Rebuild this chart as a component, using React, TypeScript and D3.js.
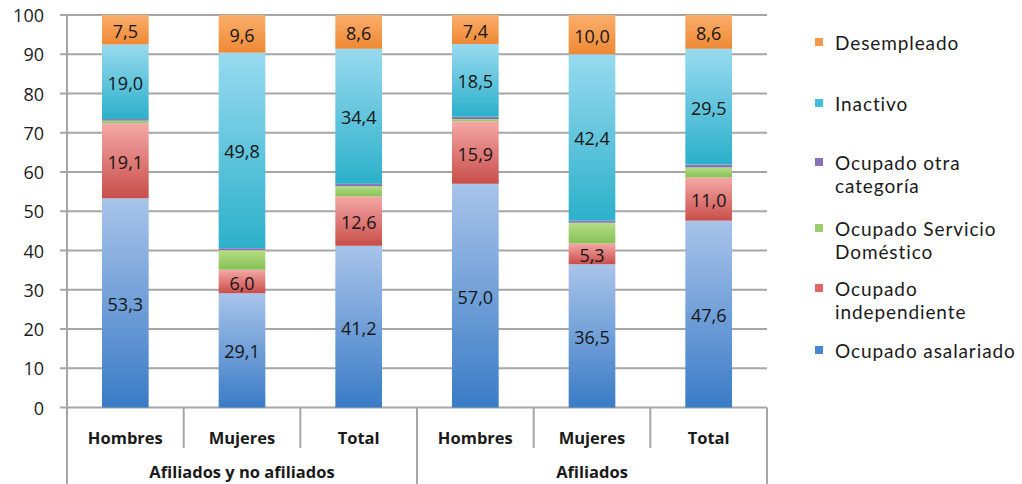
import React from "react";
import * as d3 from "d3";

const categories = ["Hombres", "Mujeres", "Total", "Hombres", "Mujeres", "Total"];
const groups = ["Afiliados y no afiliados", "Afiliados"];
const seriesNames = [
  "Ocupado asalariado",
  "Ocupado independiente",
  "Ocupado Servicio Doméstico",
  "Ocupado otra categoría",
  "Inactivo",
  "Desempleado",
];
const asalariado = [53.3, 29.1, 41.2, 57.0, 36.5, 47.6];
const independiente = [19.1, 6.0, 12.6, 15.9, 5.3, 11.0];
const servicioDomestico = [0.7, 5.0, 2.6, 0.6, 5.3, 2.6];
const otraCategoria = [0.4, 0.5, 0.6, 0.6, 0.5, 0.7];
const inactivo = [19.0, 49.8, 34.4, 18.5, 42.4, 29.5];
const desempleado = [7.5, 9.6, 8.6, 7.4, 10.0, 8.6];
const yTicks = [0, 10, 20, 30, 40, 50, 60, 70, 80, 90, 100];

const seriesValues = [asalariado, independiente, servicioDomestico, otraCategoria, inactivo, desempleado];
const showLabel = [true, true, false, false, true, true];
const gradients = [
  ["#a8c4ea", "#3a7bc6"],
  ["#f5a8a6", "#c84e4a"],
  ["#b5dd86", "#86c256"],
  ["#9c86c6", "#7a5fae"],
  ["#98daf0", "#2cb0ca"],
  ["#fbae6c", "#ee8934"],
];
const legendSwatch = ["#4a86cf", "#e06666", "#9bcf6a", "#8b6fbb", "#3fbfda", "#f59a4c"];
// legend items top to bottom (reverse of stack)
const legendLines = [
  ["Desempleado"],
  ["Inactivo"],
  ["Ocupado otra", "categoría"],
  ["Ocupado Servicio", "Doméstico"],
  ["Ocupado", "independiente"],
  ["Ocupado asalariado"],
];

const FONT = "'Open Sans', Lato, sans-serif";

export default function App() {
  const left = 67, right = 767, top = 15, bottom = 407.5;
  const x = d3.scaleBand<number>().domain(d3.range(categories.length)).range([left, right]).paddingInner(0.6).paddingOuter(0.3);
  const y = d3.scaleLinear().domain([0, 100]).range([bottom, top]);
  const step = (right - left) / categories.length;

  const stackData = categories.map((_, i) => {
    const o: any = { i };
    seriesNames.forEach((s, k) => (o[s] = seriesValues[k][i]));
    return o;
  });
  const stacked = d3.stack<any>().keys(seriesNames)(stackData);

  const legendY = [42, 103, 162, 228, 288, 350];

  return (
    <svg width={1022} height={484} style={{ position: "absolute", left: 0, top: 0, background: "#fff" }} fontFamily={FONT}>
      <defs>
        {gradients.map((g, k) => (
          <linearGradient key={k} id={`g${k}`} x1="0" y1="0" x2="0" y2="1">
            <stop offset="0" stopColor={g[0]} />
            <stop offset="1" stopColor={g[1]} />
          </linearGradient>
        ))}
      </defs>
      {/* gridlines */}
      {yTicks.map((t) => (
        <g key={t}>
          <line x1={60} x2={right} y1={y(t)} y2={y(t)} stroke="#a6a6a6" strokeWidth={2} />
          <text x={44} y={y(t)} textAnchor="end" dominantBaseline="central" fontSize={18} fill="#1a1a1a">
            {t}
          </text>
        </g>
      ))}
      {/* bars */}
      {stacked.map((layer, k) => (
        <g key={k}>
          {layer.map((d, i) => {
            const y0 = y(d[0]), y1 = y(d[1]);
            return (
              <rect key={i} x={x(i)} y={y1} width={x.bandwidth()} height={Math.max(0, y0 - y1)} fill={`url(#g${k})`} />
            );
          })}
        </g>
      ))}
      {stacked.map((layer, k) =>
        showLabel[k]
          ? layer.map((d, i) => (
              <text
                key={`${k}-${i}`}
                x={(x(i) as number) + x.bandwidth() / 2}
                y={(y(d[0]) + y(d[1])) / 2 + 1}
                textAnchor="middle"
                dominantBaseline="central"
                fontSize={18}
                fill="#151515"
              >
                {seriesValues[k][i].toFixed(1).replace(".", ",")}
              </text>
            ))
          : null
      )}
      {/* axes */}
      <line x1={left} x2={left} y1={top} y2={484} stroke="#a6a6a6" strokeWidth={2} />
      {categories.map((_, i) => {
        const xr = left + step * (i + 1);
        const long = (i + 1) % 3 === 0;
        return <line key={i} x1={xr} x2={xr} y1={bottom} y2={long ? 484 : 448} stroke="#a6a6a6" strokeWidth={2} />;
      })}
      {categories.map((c, i) => (
        <text key={i} x={(x(i) as number) + x.bandwidth() / 2} y={437} textAnchor="middle" dominantBaseline="central" fontSize={16.5} fontWeight={700} fill="#1a1a1a">
          {c}
        </text>
      ))}
      {groups.map((g, j) => (
        <text key={j} x={left + step * 3 * j + step * 1.5} y={471} textAnchor="middle" dominantBaseline="central" fontSize={16.5} fontWeight={700} fill="#1a1a1a">
          {g}
        </text>
      ))}
      {/* legend */}
      {legendLines.map((lines, j) => {
        const k = seriesNames.length - 1 - j;
        const ly = legendY[j];
        return (
          <g key={j}>
            <rect x={815} y={ly - 4} width={8} height={8} fill={legendSwatch[k]} />
            {lines.map((ln, m) => (
              <text key={m} x={835} y={ly + m * 23} dominantBaseline="central" fontSize={19} letterSpacing={0.9} fontFamily="Lato, 'Open Sans', sans-serif" fill="#1a1a1a">
                {ln}
              </text>
            ))}
          </g>
        );
      })}
    </svg>
  );
}
